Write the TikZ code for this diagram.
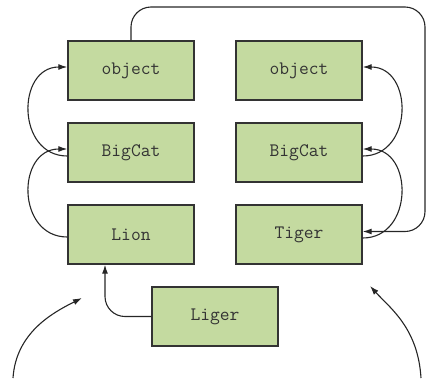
\documentclass[tikz,border=0pt]{standalone}
\usetikzlibrary{arrows.meta}
\definecolor{boxgreen}{HTML}{C4DAA0}
\definecolor{boxline}{HTML}{333333}
\begin{document}
\begin{tikzpicture}[x=1pt,y=-1pt,
  cls/.style={draw=boxline,line width=1.4pt,fill=boxgreen,minimum width=126pt,minimum height=59pt,inner sep=0pt,font=\ttfamily\fontsize{19}{22}\selectfont,text=black!80},
  conn/.style={line width=1.1pt,draw=black!85,-{Latex[length=9pt,width=6pt]}}]
\useasboundingbox (0,0) rectangle (426,378);
\node[cls] (lobj) at (131,70.5) {object};
\node[cls] (lbc) at (131,152.5) {BigCat};
\node[cls] (lion) at (131,234.5) {Lion};
\node[cls] (robj) at (299,70.5) {object};
\node[cls] (rbc) at (299,152.5) {BigCat};
\node[cls] (tiger) at (299,234.5) {Tiger};
\node[cls] (liger) at (215,316.5) {Liger};
\coordinate (la) at (13,378);
\coordinate (lb) at (82,298);
\coordinate (ra) at (421,378);
\coordinate (rb) at (370,286);
% left chain
\draw[conn] ([yshift=-3.5pt]lbc.west) .. controls +(-51,0) and +(-51,0) .. ([yshift=3.5pt]lobj.west);
\draw[conn] ([yshift=-2.5pt]lion.west) .. controls +(-51,0) and +(-51,0) .. ([yshift=3.5pt]lbc.west);
% right chain
\draw[conn] ([yshift=-3.5pt]rbc.east) .. controls +(51,0) and +(51,0) .. ([yshift=3.5pt]robj.east);
\draw[conn] ([yshift=-3.5pt]tiger.east) .. controls +(51,0) and +(51,0) .. ([yshift=3.5pt]rbc.east);
% top loop
\draw[conn,rounded corners=20pt] (lobj.north) |- (425,7) |- ([yshift=3pt]tiger.east);
% liger to lion
\draw[conn,rounded corners=20pt] (liger.west) -| ([xshift=-26pt]lion.south);
% free arrows
\draw[conn] (la) .. controls +(3,-45) and +(-30,15) .. (lb);
\draw[conn] (ra) .. controls +(-3,-50) and +(20,22) .. (rb);
\end{tikzpicture}
\end{document}
